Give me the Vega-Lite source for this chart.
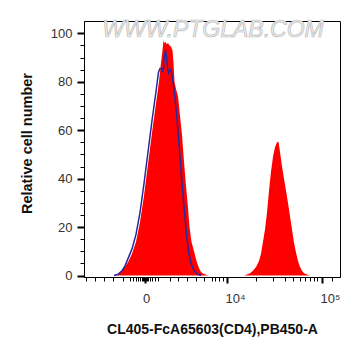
{
  "$schema": "https://vega.github.io/schema/vega-lite/v6.json",
  "width": 256,
  "height": 256,
  "autosize": {"type": "none"},
  "padding": {"left": 84, "top": 21, "right": 21, "bottom": 79},
  "background": "white",
  "config": {
    "view": {"stroke": "black", "strokeWidth": 1},
    "axis": {
      "labelFont": "Liberation Sans",
      "labelFontSize": 13,
      "labelColor": "#333333",
      "titleFont": "Liberation Sans",
      "titleFontWeight": "bold",
      "titleColor": "#111111",
      "domainColor": "black",
      "tickColor": "black",
      "grid": false,
      "labelOverlap": false,
      "labelFlush": false
    }
  },
  "datasets": {
    "sample": [
      {"ch": 0, "count": 0}, {"ch": 30, "count": 0}, {"ch": 33, "count": 0.3}, {"ch": 36, "count": 1.2},
      {"ch": 40, "count": 3}, {"ch": 44, "count": 5.5}, {"ch": 48, "count": 9}, {"ch": 52, "count": 14},
      {"ch": 56, "count": 22}, {"ch": 60, "count": 33}, {"ch": 64, "count": 46}, {"ch": 68, "count": 59},
      {"ch": 72, "count": 71}, {"ch": 75, "count": 80}, {"ch": 77, "count": 88}, {"ch": 78.5, "count": 93},
      {"ch": 79.5, "count": 97}, {"ch": 80.5, "count": 96}, {"ch": 81.5, "count": 96.5}, {"ch": 82.5, "count": 95.5},
      {"ch": 84, "count": 96}, {"ch": 85.5, "count": 95}, {"ch": 87, "count": 94.5}, {"ch": 88.5, "count": 93},
      {"ch": 89.5, "count": 88}, {"ch": 90.5, "count": 80}, {"ch": 92, "count": 77}, {"ch": 94, "count": 74},
      {"ch": 96, "count": 66}, {"ch": 98, "count": 58}, {"ch": 100, "count": 47}, {"ch": 102, "count": 37},
      {"ch": 104, "count": 28}, {"ch": 105.5, "count": 20}, {"ch": 107.5, "count": 14}, {"ch": 110, "count": 10},
      {"ch": 112.5, "count": 6}, {"ch": 115, "count": 3}, {"ch": 117, "count": 1.5}, {"ch": 119, "count": 0.8},
      {"ch": 122, "count": 0.3}, {"ch": 125, "count": 0}, {"ch": 160, "count": 0}, {"ch": 163, "count": 0.4},
      {"ch": 166, "count": 1}, {"ch": 169, "count": 2}, {"ch": 172, "count": 3.5}, {"ch": 175, "count": 6},
      {"ch": 177, "count": 9}, {"ch": 179, "count": 14}, {"ch": 181, "count": 19}, {"ch": 183, "count": 26},
      {"ch": 185, "count": 35}, {"ch": 187, "count": 43}, {"ch": 189, "count": 49}, {"ch": 191, "count": 53},
      {"ch": 193, "count": 55}, {"ch": 194.5, "count": 55.2}, {"ch": 196, "count": 51}, {"ch": 198, "count": 45},
      {"ch": 200, "count": 40}, {"ch": 202, "count": 35}, {"ch": 204, "count": 30}, {"ch": 206, "count": 24.5},
      {"ch": 208, "count": 19}, {"ch": 210, "count": 13.5}, {"ch": 212, "count": 9.5}, {"ch": 214, "count": 6},
      {"ch": 216, "count": 3.5}, {"ch": 218, "count": 2}, {"ch": 220, "count": 1}, {"ch": 223, "count": 0.4},
      {"ch": 226, "count": 0}, {"ch": 256, "count": 0}
    ],
    "control": [
      {"ch": 30, "count": 0}, {"ch": 34, "count": 0.5}, {"ch": 38, "count": 2},
      {"ch": 41, "count": 4}, {"ch": 44, "count": 7}, {"ch": 48, "count": 11}, {"ch": 52, "count": 17},
      {"ch": 56, "count": 26}, {"ch": 60, "count": 38}, {"ch": 64, "count": 51}, {"ch": 68, "count": 64},
      {"ch": 72, "count": 76}, {"ch": 74.5, "count": 84}, {"ch": 76, "count": 85.5}, {"ch": 77.5, "count": 85.5},
      {"ch": 78.5, "count": 84}, {"ch": 79.5, "count": 86}, {"ch": 80.5, "count": 91}, {"ch": 81.5, "count": 93},
      {"ch": 82.5, "count": 90}, {"ch": 83.5, "count": 86}, {"ch": 84.5, "count": 83.5}, {"ch": 85.5, "count": 84.5},
      {"ch": 86.5, "count": 85}, {"ch": 87.5, "count": 84}, {"ch": 89, "count": 80}, {"ch": 90.5, "count": 75},
      {"ch": 92.5, "count": 67}, {"ch": 94.5, "count": 57}, {"ch": 96.5, "count": 46}, {"ch": 98.5, "count": 36},
      {"ch": 100.5, "count": 26}, {"ch": 102.5, "count": 17}, {"ch": 104.5, "count": 10}, {"ch": 107, "count": 5},
      {"ch": 110, "count": 2}, {"ch": 113, "count": 0.7}, {"ch": 117, "count": 0}
    ],
    "mark": [
      {"ch": 129, "count": 101.2, "label": "WWW.PTGLAB.COM"}
    ]
  },
  "encoding": {
    "x": {
      "field": "ch",
      "type": "quantitative",
      "scale": {"domain": [0, 256], "nice": false, "zero": false},
      "axis": {
        "title": "CL405-FcA65603(CD4),PB450-A",
        "titleFontSize": 14,
        "titleX": 128,
        "titleY": 52,
        "titleAlign": "center",
        "titleBaseline": "middle",
        "values": [2, 11, 20, 29, 39, 46, 49, 52, 54, 56, 58, 59, 60, 61, 62, 63, 64, 66, 68, 71, 74, 86, 94, 103, 112, 120, 128, 131, 135, 139, 143, 172, 189, 201, 209, 216, 221, 226, 230, 233, 238, 248],
        "labelExpr": "datum.value == 61 ? '0' : datum.value == 143 ? '10⁴' : datum.value == 238 ? '10⁵' : ''",
        "tickSize": {"condition": {"test": "datum.value == 61 || datum.value == 143 || datum.value == 238", "value": 6}, "value": 4},
        "tickWidth": {"condition": {"test": "datum.value == 61 || datum.value == 143 || datum.value == 238", "value": 2}, "value": 1},
        "labelAlign": {"condition": {"test": "datum.value == 61", "value": "center"}, "value": "left"},
        "labelOffset": {"condition": {"test": "datum.value == 61", "value": 1}, "value": -2},
        "labelPadding": 9
      }
    },
    "y": {
      "field": "count",
      "type": "quantitative",
      "scale": {"domain": [-0.6, 105.1], "nice": false, "zero": false},
      "axis": {
        "title": "Relative cell number",
        "titleFontSize": 14.5,
        "titleX": -57,
        "titleY": 122,
        "titleAngle": -90,
        "titleAlign": "center",
        "titleBaseline": "middle",
        "values": [0, 5, 10, 15, 20, 25, 30, 35, 40, 45, 50, 55, 60, 65, 70, 75, 80, 85, 90, 95, 100],
        "labelExpr": "datum.value % 20 === 0 ? datum.label : ''",
        "tickSize": {"condition": {"test": "datum.value % 20 === 0", "value": 7}, "value": 4},
        "tickWidth": {"condition": {"test": "datum.value % 20 === 0", "value": 2}, "value": 1},
        "labelPadding": 5
      }
    }
  },
  "layer": [
    {
      "data": {"name": "mark"},
      "mark": {"type": "text", "font": "Liberation Sans", "fontSize": 23, "fontStyle": "italic", "fill": "#eeeeee", "stroke": "#bbbbbb", "strokeWidth": 0.7, "align": "center", "baseline": "middle"},
      "encoding": {"text": {"field": "label"}}
    },
    {
      "data": {"name": "sample"},
      "mark": {"type": "area", "color": "#ff0000", "interpolate": "linear"}
    },
    {
      "data": {"name": "control"},
      "mark": {"type": "line", "color": "#28289c", "strokeWidth": 1.5, "interpolate": "linear"}
    }
  ]
}
